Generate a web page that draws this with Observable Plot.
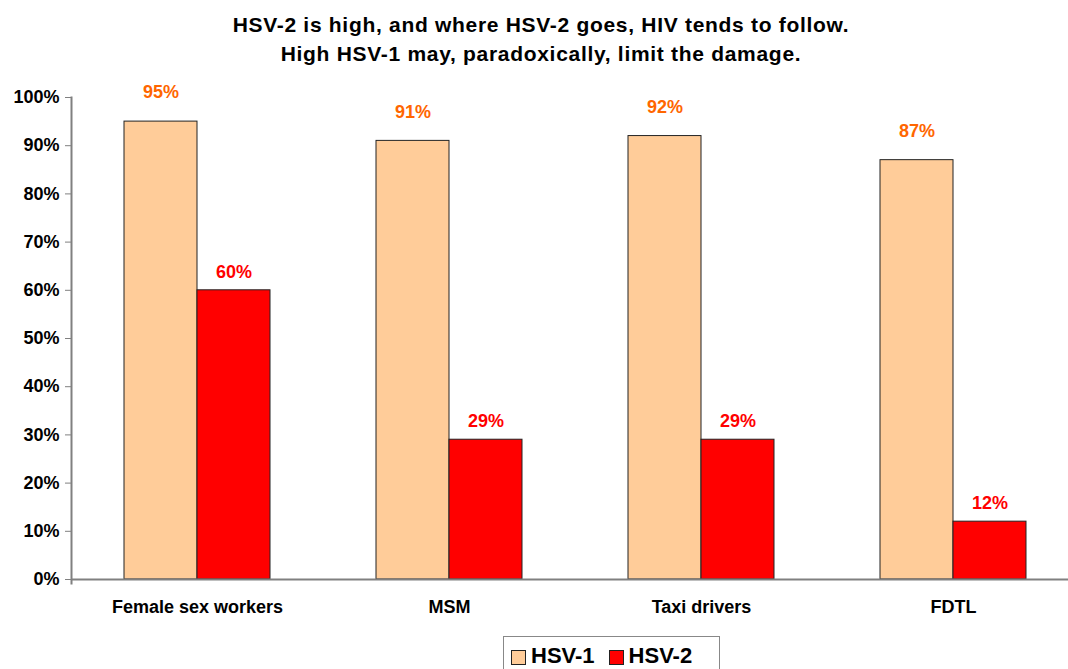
<!DOCTYPE html>
<html><head><meta charset="utf-8">
<script src="https://cdn.jsdelivr.net/npm/d3@7"></script>
<script src="https://cdn.jsdelivr.net/npm/@observablehq/plot@0.6"></script>
<style>
body{margin:0;background:#fff;font-family:"Liberation Sans",Arial,sans-serif;overflow:hidden;}
#wrap{position:relative;width:1068px;height:669px;}
#title{position:absolute;left:0;top:10px;width:1082px;text-align:center;font-weight:bold;font-size:21px;letter-spacing:0.7px;line-height:29px;color:#000;}
#legend{position:absolute;left:503px;top:636px;width:217px;height:40px;border:1px solid #888;box-sizing:border-box;font-weight:bold;font-size:22px;display:flex;align-items:flex-start;padding-left:7px;padding-top:6px;}
#legend span.sw{display:inline-block;width:13px;height:13px;border:1px solid #222;margin-right:5px;margin-top:7px;}
#legend .item{display:flex;align-items:flex-start;margin-right:14px;}
svg{position:absolute;left:0;top:0;}
</style></head>
<body><div id="wrap">
<div id="title">HSV-2 is high, and where HSV-2 goes, HIV tends to follow.<br>High HSV-1 may, paradoxically, limit the damage.</div>
<div id="chart"></div>
<div id="legend"></div>
</div>
<script>
const categories = ["Female sex workers", "MSM", "Taxi drivers", "FDTL"];
const series = ["HSV-1", "HSV-2"];
const hsv1 = [95, 91, 92, 87];
const hsv2 = [60, 29, 29, 12];
const yTicks = [0,10,20,30,40,50,60,70,80,90,100];
const colors = ["#FFCC99", "#FF0000"];
const labelColors = ["#FF6600", "#FF0000"];

const data = [];
categories.forEach((c,i)=>{
  data.push({cat:c, s:"HSV-1", v:hsv1[i]});
  data.push({cat:c, s:"HSV-2", v:hsv2[i]});
});

const chart = Plot.plot({
  width: 1068, height: 669,
  marginTop: 97, marginBottom: 90, marginLeft: 71, marginRight: 0,
  style:{fontFamily:'"Liberation Sans",Arial,sans-serif', fontWeight:"bold", fontSize:"18px", color:"#000", background:"transparent", overflow:"visible"},
  fx:{domain:categories, range:[71,1079], padding:0, label:null, axis:"bottom", tickSize:0, tickPadding:21},
  x:{domain:series, paddingOuter:0.726, paddingInner:0, axis:null},
  y:{domain:[0,100], ticks:yTicks, tickFormat:d=>d+"%", label:null, axis:null},
  color:{domain:series, range:colors},
  marks:[
    Plot.barY(data,{fx:"cat", x:"s", y:"v", fill:"s", stroke:"#222", strokeWidth:1}),
    Plot.ruleY([0],{stroke:"#808080", strokeWidth:2}),
    Plot.text(data.filter(d=>d.s==="HSV-1"),{fx:"cat", x:"s", y:"v", text:d=>d.v+"%", dy:-29, fill:labelColors[0], fontSize:18, fontWeight:"bold"}),
    Plot.text(data.filter(d=>d.s==="HSV-2"),{fx:"cat", x:"s", y:"v", text:d=>d.v+"%", dy:-18, fill:labelColors[1], fontSize:18, fontWeight:"bold"}),
    Plot.axisY({anchor:"left", ticks:yTicks, tickFormat:d=>d+"%", tickSize:6, tickPadding:6, stroke:"#808080", fontSize:18, fontWeight:"bold", facetAnchor:"left"}),
    Plot.frame({anchor:"left", stroke:"#808080", strokeWidth:2, insetBottom:-4, facetAnchor:"left"})
  ]
});
document.getElementById("chart").appendChild(chart);

const leg = document.getElementById("legend");
series.forEach((s,i)=>{
  const it = document.createElement("div"); it.className="item";
  const sw = document.createElement("span"); sw.className="sw"; sw.style.background=colors[i];
  it.appendChild(sw); it.appendChild(document.createTextNode(s)); leg.appendChild(it);
});
</script></body></html>
